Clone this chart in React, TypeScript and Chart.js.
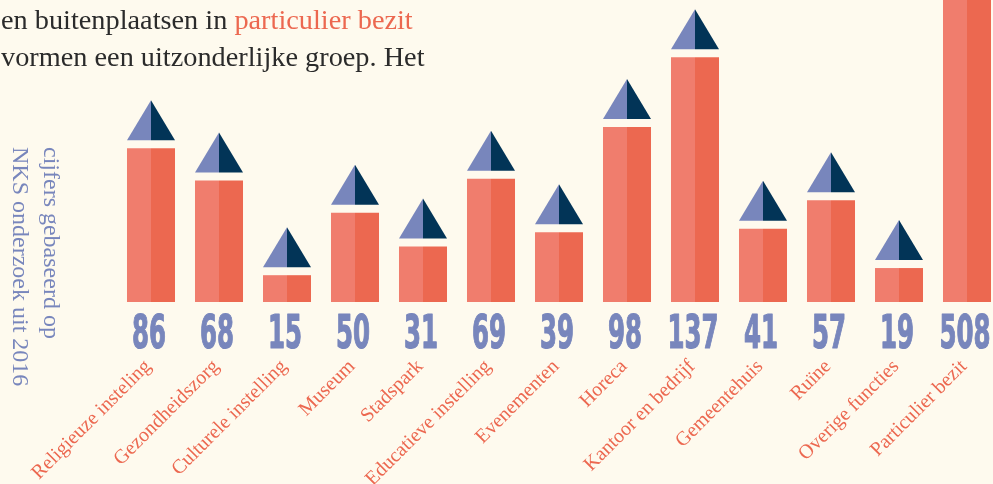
import React, { useEffect, useRef } from "react";
import { Chart, registerables } from "chart.js";

Chart.register(...registerables);

const categories = [
  "Religieuze insteling",
  "Gezondheidszorg",
  "Culturele instelling",
  "Museum",
  "Stadspark",
  "Educatieve instelling",
  "Evenementen",
  "Horeca",
  "Kantoor en bedrijf",
  "Gemeentehuis",
  "Ruïne",
  "Overige functies",
  "Particulier bezit",
];
const values = [86, 68, 15, 50, 31, 69, 39, 98, 137, 41, 57, 19, 508];
const yMax = 169;

const introLine1 = "en buitenplaatsen in ";
const introHighlight = "particulier bezit";
const introLine2 = "vormen een uitzonderlijke groep. Het";
const sideLines = ["cijfers gebaseerd op", "NKS onderzoek uit 2016"];

const BG = "#fefaee";
const BAR_L = "#f07d6d";
const BAR_R = "#ec6850";
const ROOF_L = "#7886bc";
const ROOF_R = "#023457";
const NUM = "#7886bc";
const LABEL = "#ec6850";
const TEXT = "#2b2b2b";

const roofPlugin = {
  id: "roofs",
  afterDatasetsDraw(chart: any) {
    const ctx = chart.ctx;
    const leftBars = chart.getDatasetMeta(0).data;
    const rightBars = chart.getDatasetMeta(1).data;
    leftBars.forEach((el: any, i: number) => {
      const r = rightBars[i];
      const a = el.getProps(["x", "y", "width"], true);
      const b = r.getProps(["x", "width"], true);
      const x0 = a.x - a.width / 2;
      const x1 = b.x + b.width / 2;
      const xm = (x0 + x1) / 2;
      const base = a.y - 8;
      const apex = base - 40;
      if (base < -100) return;
      ctx.save();
      ctx.fillStyle = ROOF_L;
      ctx.beginPath();
      ctx.moveTo(x0, base);
      ctx.lineTo(xm, apex);
      ctx.lineTo(xm, base);
      ctx.closePath();
      ctx.fill();
      ctx.fillStyle = ROOF_R;
      ctx.beginPath();
      ctx.moveTo(xm, base);
      ctx.lineTo(xm, apex);
      ctx.lineTo(x1, base);
      ctx.closePath();
      ctx.fill();
      ctx.restore();
    });
  },
};

const numberPlugin = {
  id: "numbers",
  afterDraw(chart: any) {
    const ctx = chart.ctx;
    const xs = chart.scales.x;
    ctx.save();
    ctx.font = "bold 46px 'Liberation Sans Narrow', 'DejaVu Sans Condensed', 'DejaVu Sans', sans-serif";
    const w0 = ctx.measureText("0").width || 20;
    const sx = 17 / w0;
    ctx.fillStyle = NUM;
    ctx.strokeStyle = NUM;
    ctx.lineWidth = 1.2;
    ctx.lineJoin = "round";
    ctx.textAlign = "center";
    ctx.textBaseline = "alphabetic";
    values.forEach((v, i) => {
      const x = xs.getPixelForValue(i);
      ctx.save();
      ctx.translate(x - 2, 348);
      ctx.scale(sx, 1);
      ctx.fillText(String(v), 0, 0);
      ctx.strokeText(String(v), 0, 0);
      ctx.restore();
    });
    ctx.restore();
  },
};

export default function App() {
  const ref = useRef<HTMLCanvasElement | null>(null);
  useEffect(() => {
    if (!ref.current) return;
    const chart = new Chart(ref.current, {
      type: "bar",
      data: {
        labels: categories,
        datasets: [
          {
            data: values,
            backgroundColor: BAR_L,
            categoryPercentage: 0.706,
            barPercentage: 1,
            borderWidth: 0,
          },
          {
            data: values,
            backgroundColor: BAR_R,
            categoryPercentage: 0.706,
            barPercentage: 1,
            borderWidth: 0,
          },
        ],
      },
      options: {
        animation: false,
        responsive: false,
        layout: { padding: { left: 117, right: 0, top: 0, bottom: 0 } },
        plugins: { legend: { display: false }, tooltip: { enabled: false } },
        scales: {
          x: {
            grid: { display: false, drawTicks: false },
            border: { display: false },
            ticks: {
              autoSkip: false,
              maxRotation: 45,
              minRotation: 45,
              padding: 53,
              labelOffset: -3,
              color: LABEL,
              font: { family: "'Liberation Serif', 'DejaVu Serif', serif", size: 20 },
            },
            afterFit: (s: any) => {
              s.height = 182;
              s.paddingLeft = 0;
              s.paddingRight = 0;
            },
          },
          y: { display: false, min: 0, max: yMax },
        },
      },
      plugins: [roofPlugin, numberPlugin],
    } as any);
    return () => chart.destroy();
  }, []);

  return (
    <div
      style={{
        position: "absolute",
        left: 0,
        top: 0,
        width: 993,
        height: 484,
        overflow: "hidden",
        background: BG,
      }}
    >
      <div style={{ position: "absolute", left: 0, top: 0, width: 1001, height: 484 }}>
        <canvas ref={ref} width={1001} height={484} style={{ display: "block" }} />
      </div>
      <div
        style={{
          position: "absolute",
          left: 1,
          top: 1,
          font: "28.3px 'Liberation Serif', serif",
          lineHeight: "37px",
          color: TEXT,
          whiteSpace: "nowrap",
        }}
      >
        <div>
          {introLine1}
          <span style={{ color: LABEL }}>{introHighlight}</span>
        </div>
        <div>{introLine2}</div>
      </div>
      <div
        style={{
          position: "absolute",
          left: 67,
          top: 147,
          transformOrigin: "0 0",
          transform: "rotate(90deg)",
          font: "24px 'Liberation Serif', serif",
          lineHeight: "31px",
          color: NUM,
          whiteSpace: "nowrap",
        }}
      >
        {sideLines.map((l) => (
          <div key={l}>{l}</div>
        ))}
      </div>
    </div>
  );
}
